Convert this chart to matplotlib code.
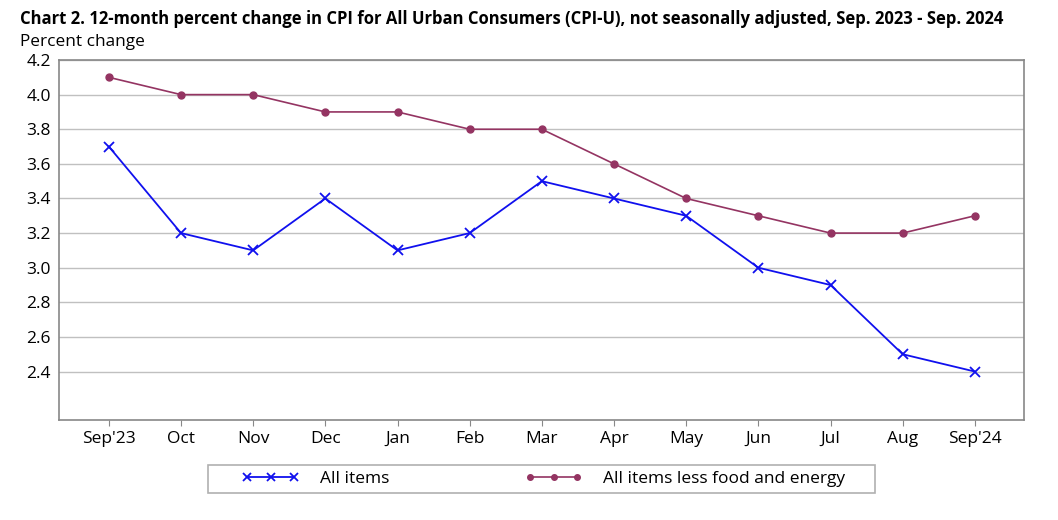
import matplotlib
matplotlib.use("Agg")
import matplotlib.pyplot as plt
from matplotlib.patches import Rectangle

plt.rcParams['font.family'] = ['Open Sans', 'DejaVu Sans']

months = ["Sep'23", "Oct", "Nov", "Dec", "Jan", "Feb", "Mar", "Apr", "May", "Jun", "Jul", "Aug", "Sep'24"]
all_items = [3.7, 3.2, 3.1, 3.4, 3.1, 3.2, 3.5, 3.4, 3.3, 3.0, 2.9, 2.5, 2.4]
core = [4.1, 4.0, 4.0, 3.9, 3.9, 3.8, 3.8, 3.6, 3.4, 3.3, 3.2, 3.2, 3.3]
y_ticks = [2.4, 2.6, 2.8, 3.0, 3.2, 3.4, 3.6, 3.8, 4.0, 4.2]

blue = "#1010ee"
maroon = "#943462"

fig = plt.figure(figsize=(10.58, 5.2), dpi=100)
ax = fig.add_axes([0.0558, 0.1923, 0.912, 0.6923])

x = range(len(months))
ax.plot(x, all_items, color=blue, lw=1.3, marker="x", ms=7, mew=1.3, label="All items")
ax.plot(x, core, color=maroon, lw=1.2, marker="o", ms=5, label="All items less food and energy")

ax.set_xlim(-0.69, 12.68)
ax.set_ylim(2.12, 4.2)
ax.set_xticks(list(x))
ax.set_xticklabels(months, fontsize=12.5)
ax.set_yticks(y_ticks)
ax.set_yticklabels([f"{v:.1f}" for v in y_ticks], fontsize=12.5)
ax.tick_params(axis="y", length=0, pad=6)
ax.tick_params(axis="x", length=4, color="#888888", pad=4)
ax.grid(axis="y", color="#c0c0c0", lw=1)
ax.set_axisbelow(True)
for s in ax.spines.values():
    s.set_color("#888888")
    s.set_linewidth(1.2)

fig.text(0.019, 0.963, "Chart 2. 12-month percent change in CPI for All Urban Consumers (CPI-U), not seasonally adjusted, Sep. 2023 - Sep. 2024",
         fontsize=12, fontweight="bold", va="center", ha="left")
fig.text(0.019, 0.919, "Percent change", fontsize=12.4, va="center", ha="left")

# legend box drawn by hand, legend itself without frame
fig.patches.append(Rectangle((0.1966, 0.0519), 0.6304, 0.0538, transform=fig.transFigure,
                             fill=False, edgecolor="#b0b0b0", lw=1.2))
leg = fig.legend(loc="center left", bbox_to_anchor=(0.2287, 0.079), ncol=2, numpoints=3, fontsize=12.5,
                 frameon=False, handlelength=3.3, markerscale=0.8, borderpad=0, borderaxespad=0,
                 columnspacing=7.8, handletextpad=1.2)

fig.savefig("out.png", dpi=100)
